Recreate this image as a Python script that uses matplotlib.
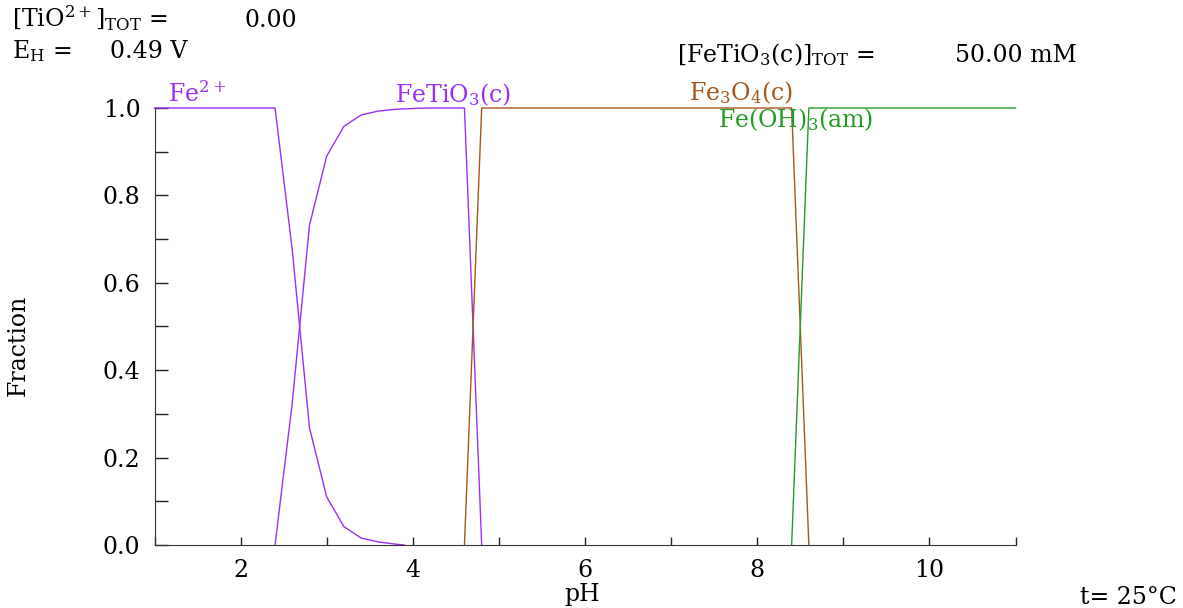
import matplotlib
matplotlib.use('Agg')
import matplotlib.pyplot as plt
from matplotlib.ticker import MultipleLocator

plt.rcParams['font.family'] = 'DejaVu Serif'
plt.rcParams['font.size'] = 17
plt.rcParams['mathtext.fontset'] = 'custom'
plt.rcParams['mathtext.rm'] = 'DejaVu Serif'
plt.rcParams['mathtext.it'] = 'DejaVu Serif:italic'

# fraction vs pH
ph_fe2 = [1.0, 2.4, 2.6, 2.8, 3.0, 3.2, 3.4, 3.6, 3.8, 3.9]
fr_fe2 = [1.0, 1.0, 0.675, 0.268, 0.11, 0.042, 0.016, 0.007, 0.002, 0.0]

ph_fetio3 = [2.4, 2.6, 2.8, 3.0, 3.2, 3.4, 3.6, 3.8, 4.0, 4.2, 4.4, 4.6, 4.8]
fr_fetio3 = [0.0, 0.325, 0.732, 0.89, 0.958, 0.984, 0.993, 0.997, 0.999, 1.0, 1.0, 1.0, 0.0]

ph_fe3o4 = [4.6, 4.8, 8.4, 8.6]
fr_fe3o4 = [0.0, 1.0, 1.0, 0.0]

ph_feoh3 = [8.4, 8.6, 11.0]
fr_feoh3 = [0.0, 1.0, 1.0]

purple = '#9a2ff5'
brown = '#a5561c'
green = '#259a25'

W, H = 1183, 608
fig = plt.figure(figsize=(W / 100, H / 100), dpi=100)
ax = fig.add_axes([154.5 / W, 1 - 545 / H, (1015.5 - 154.5) / W, (545 - 108) / H])

ax.plot(ph_fe2, fr_fe2, color=purple, lw=1.0, clip_on=False)
ax.plot(ph_fetio3, fr_fetio3, color=purple, lw=1.0, clip_on=False)
ax.plot(ph_fe3o4, fr_fe3o4, color=brown, lw=1.0, clip_on=False)
ax.plot(ph_feoh3, fr_feoh3, color=green, lw=1.0, clip_on=False)

ax.set_xlim(1, 11)
ax.set_ylim(0, 1)
ax.xaxis.set_major_locator(MultipleLocator(2))
ax.xaxis.set_minor_locator(MultipleLocator(1))
ax.yaxis.set_major_locator(MultipleLocator(0.2))
ax.yaxis.set_minor_locator(MultipleLocator(0.1))
ax.yaxis.set_major_formatter(plt.FormatStrFormatter('%.1f'))
ax.tick_params(axis='x', which='both', direction='in', length=6, width=1, pad=10, color='#222222')
ax.tick_params(axis='y', which='both', direction='in', length=9, width=1, pad=10, color='#222222')
for s in ['top', 'right']:
    ax.spines[s].set_visible(False)
for s in ['left', 'bottom']:
    ax.spines[s].set_color('#333333')
    ax.spines[s].set_zorder(5)


def ftext(x, y, s, **kw):
    fig.text(x / W, 1 - y / H, s, **kw)


ftext(582, 601, 'pH', ha='center', va='baseline')
ftext(18, 345, 'Fraction', ha='center', va='center', rotation=90)
ftext(1177, 604, 't= 25°C', ha='right', va='baseline')

ftext(12, 27, r'[TiO$^{2+}$]$_{\mathrm{TOT}}$ =', ha='left', va='baseline')
ftext(245, 27, '0.00', ha='left', va='baseline')
ftext(12, 58, r'E$_{\mathrm{H}}$ =', ha='left', va='baseline')
ftext(110, 58, '0.49 V', ha='left', va='baseline')
ftext(677, 62, r'[FeTiO$_3$(c)]$_{\mathrm{TOT}}$ =', ha='left', va='baseline')
ftext(955, 62, '50.00 mM', ha='left', va='baseline')

ftext(168, 102, r'Fe$^{2+}$', color=purple, ha='left', va='baseline')
ftext(395, 102, r'FeTiO$_3$(c)', color=purple, ha='left', va='baseline')
ftext(689, 100, r'Fe$_3$O$_4$(c)', color=brown, ha='left', va='baseline')
ftext(718, 127, r'Fe(OH)$_3$(am)', color=green, ha='left', va='baseline')

fig.savefig('out.png', dpi=100)
